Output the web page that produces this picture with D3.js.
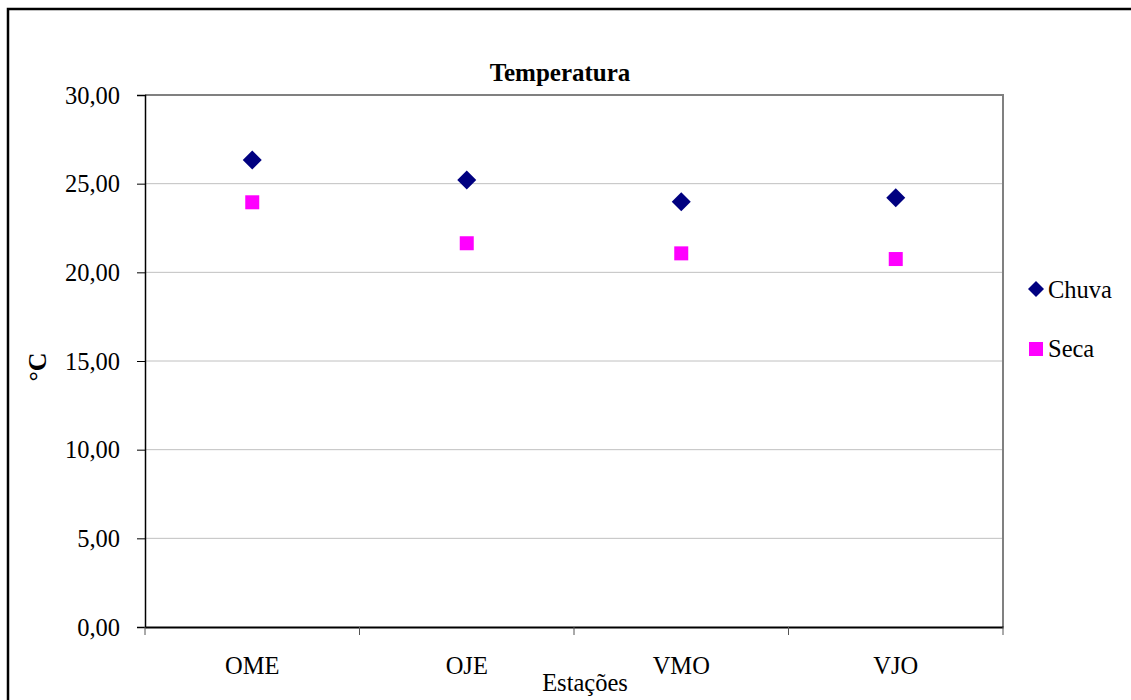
<!DOCTYPE html>
<html><head><meta charset="utf-8">
<script src="https://cdn.jsdelivr.net/npm/d3@7"></script>
<style>body{margin:0;background:#fff}svg{display:block}text{font-family:"Liberation Serif","Times New Roman",serif}</style>
</head><body>
<svg id="c" width="1131" height="700"></svg>
<script>
const categories = ["OME", "OJE", "VMO", "VJO"];
const chuva = [26.33, 25.21, 23.98, 24.21];
const seca = [23.95, 21.64, 21.07, 20.75];
const yTicks = [0, 5, 10, 15, 20, 25, 30];
const seriesNames = ["Chuva", "Seca"];
const colors = ["#000080", "#FF00FF"];
const title = "Temperatura";
const yLabel = "°C";
const xLabel = "Estações";

const svg = d3.select("#c");
const L = 145, R = 1003, T = 95, B = 627;
const fmt = v => d3.format(".2f")(v).replace(".", ",");

// outer border
svg.append("rect").attr("x", 8).attr("y", 9).attr("width", 1140).attr("height", 720)
  .attr("fill", "none").attr("stroke", "#000").attr("stroke-width", 2.5);

const x = d3.scaleBand().domain(categories).range([L, R]);
const y = d3.scaleLinear().domain([0, 30]).range([B, T]);

// gridlines
svg.append("g").selectAll("line").data(yTicks.filter(t => t > 0 && t < 30)).join("line")
  .attr("x1", L).attr("x2", R).attr("y1", d => y(d)).attr("y2", d => y(d))
  .attr("stroke", "#c0c0c0").attr("stroke-width", 1);

// plot frame top/right grey
svg.append("path").attr("d", `M${L},${T}H${R}V${B}`).attr("fill", "none")
  .attr("stroke", "#808080").attr("stroke-width", 2);

// y axis
const yAxis = svg.append("g").attr("transform", `translate(${L},0)`)
  .call(d3.axisLeft(y).tickValues(yTicks).tickSize(8).tickPadding(17).tickFormat(fmt));
yAxis.attr("font-family", null);
yAxis.select(".domain").attr("stroke", "#000").attr("stroke-width", 1.5);
yAxis.selectAll(".tick line").attr("stroke", "#000");
yAxis.selectAll("text").attr("font-size", 24.5).attr("fill", "#000").attr("dy", "0.33em");

// x axis
const xAxis = svg.append("g").attr("transform", `translate(0,${B})`)
  .call(d3.axisBottom(x).tickSize(0).tickPadding(30));
xAxis.attr("font-family", null);
xAxis.select(".domain").attr("stroke", "#000").attr("stroke-width", 2);
xAxis.selectAll("text").attr("font-size", 24.5).attr("fill", "#000");
// boundary ticks
const bounds = categories.map(c => x(c)).concat([R]);
svg.append("g").selectAll("line").data(bounds).join("line")
  .attr("x1", d => d).attr("x2", d => d).attr("y1", B).attr("y2", B + 8)
  .attr("stroke", "#555").attr("stroke-width", 1);

const cx = c => x(c) + x.bandwidth() / 2;
// Chuva diamonds
const diamond = s => `M0,${-s}L${s},0L0,${s}L${-s},0Z`;
svg.append("g").selectAll("path").data(categories).join("path")
  .attr("d", diamond(9.5))
  .attr("transform", (c, i) => `translate(${cx(c)},${y(chuva[i])})`)
  .attr("fill", colors[0]);
// Seca squares
svg.append("g").selectAll("rect").data(categories).join("rect")
  .attr("x", c => cx(c) - 7).attr("y", (c, i) => y(seca[i]) - 7)
  .attr("width", 14).attr("height", 14).attr("fill", colors[1]);

// title
svg.append("text").attr("x", 560).attr("y", 81).attr("text-anchor", "middle")
  .attr("font-size", 25).attr("font-weight", "bold").text(title);
// y label
svg.append("text").attr("transform", "translate(46,367) rotate(-90)").attr("text-anchor", "middle")
  .attr("font-size", 26).attr("font-weight", "bold").text(yLabel);
// x label
svg.append("text").attr("x", 585).attr("y", 691).attr("text-anchor", "middle")
  .attr("font-size", 24.5).text(xLabel);

// legend
const lg = svg.append("g");
lg.append("path").attr("d", diamond(8)).attr("transform", "translate(1036,289)").attr("fill", colors[0]);
lg.append("rect").attr("x", 1029).attr("y", 342).attr("width", 14).attr("height", 14).attr("fill", colors[1]);
lg.append("text").attr("x", 1048).attr("y", 298).attr("font-size", 24.5).text(seriesNames[0]);
lg.append("text").attr("x", 1048).attr("y", 357).attr("font-size", 24.5).text(seriesNames[1]);
</script>
</body></html>
